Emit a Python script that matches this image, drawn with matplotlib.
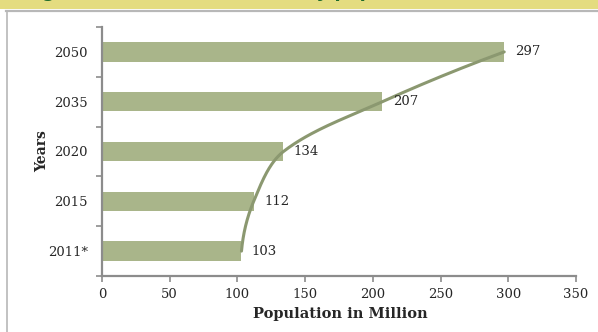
import numpy as np
import matplotlib
matplotlib.use('Agg')
import matplotlib.pyplot as plt
from matplotlib.lines import Line2D
from matplotlib.patches import Rectangle

years = ['2011*', '2015', '2020', '2035', '2050']
population = [103, 112, 134, 207, 297]
x_ticks = [0, 50, 100, 150, 200, 250, 300, 350]
title = 'Figure 5: Trend of the country population, 2011-2050'

BAR = '#a9b58a'
CURVE = '#8b9870'
AXIS = '#8c8c8c'
TEXT = '#262626'

plt.rcParams['font.family'] = ['DejaVu Serif']

fig = plt.figure(figsize=(5.98, 3.32), dpi=100)
W, H = 598, 332

# banner (title is cut off at the top edge, as in the source) + frame
fig.add_artist(Rectangle((0, 1 - 9 / H), 1, 9 / H, transform=fig.transFigure,
                         facecolor='#e4dc80', edgecolor='none'))
fig.text(0.04, 1.010, title, color='#1e6b2a', fontsize=13,
         fontweight='bold', family='DejaVu Sans', va='baseline', ha='left')
fig.add_artist(Line2D([6 / W, 1], [1 - 10.5 / H, 1 - 10.5 / H], transform=fig.transFigure,
                      color='#b8b8b8', lw=1.6))
fig.add_artist(Line2D([6.5 / W, 6.5 / W], [0, 1 - 10.5 / H], transform=fig.transFigure,
                      color='#b8b8b8', lw=1.2))

ax = fig.add_axes([102 / W, 56 / H, 474 / W, 249 / H])
pos = np.arange(len(years))
ax.barh(pos, population, height=0.39, color=BAR, zorder=2)
ax.set_xlim(0, 350)
ax.set_ylim(-0.5, len(years) - 0.5)

# smooth curve through the bar ends (chord-length Catmull-Rom in display space)
P = ax.transData.transform(np.column_stack([population, pos]))
h = np.linalg.norm(np.diff(P, axis=0), axis=1)
u = np.concatenate([[0], np.cumsum(h)])
M = np.zeros_like(P)
for i in range(1, len(P) - 1):
    M[i] = (P[i + 1] - P[i - 1]) / (u[i + 1] - u[i - 1])
M[0] = 2 * (P[1] - P[0]) / h[0] - M[1]
M[-1] = 2 * (P[-1] - P[-2]) / h[-1] - M[-2]
pts = []
for i in range(len(P) - 1):
    s = np.linspace(0, 1, 50)[:, None]
    h00 = 2 * s**3 - 3 * s**2 + 1
    h10 = s**3 - 2 * s**2 + s
    h01 = -2 * s**3 + 3 * s**2
    h11 = s**3 - s**2
    pts.append(h00 * P[i] + h10 * h[i] * M[i] + h01 * P[i + 1] + h11 * h[i] * M[i + 1])
curve = ax.transData.inverted().transform(np.vstack(pts))
ax.plot(curve[:, 0], curve[:, 1], color=CURVE, lw=2.2, solid_capstyle='round', zorder=3)

for p, val in zip(pos, population):
    ax.annotate(str(val), (val, p), xytext=(7.5, 0), textcoords='offset points',
                va='center', ha='left', fontsize=9.5, color=TEXT)

ax.set_xticks(x_ticks)
ax.set_yticks(pos)
ax.set_yticklabels(years)
ax.set_yticks(np.arange(-0.5, len(years)), minor=True)
ax.tick_params(axis='y', which='major', length=0, pad=10, labelsize=9.5, labelcolor=TEXT)
ax.tick_params(axis='y', which='minor', length=4, width=1.2, color=AXIS)
ax.tick_params(axis='x', length=4, width=1.2, color=AXIS, pad=5, labelsize=9.5, labelcolor=TEXT)

for s in ['top', 'right']:
    ax.spines[s].set_visible(False)
for s in ['left', 'bottom']:
    ax.spines[s].set_color(AXIS)
    ax.spines[s].set_linewidth(1.6)

ax.set_ylabel('Years', fontweight='bold', fontsize=10, color=TEXT)
ax.yaxis.set_label_coords(-0.112, 0.5)
ax.set_xlabel('Population in Million', fontweight='bold', fontsize=10.5, color=TEXT)
ax.xaxis.set_label_coords(0.502, -0.124)

fig.savefig('out.png', dpi=100)
